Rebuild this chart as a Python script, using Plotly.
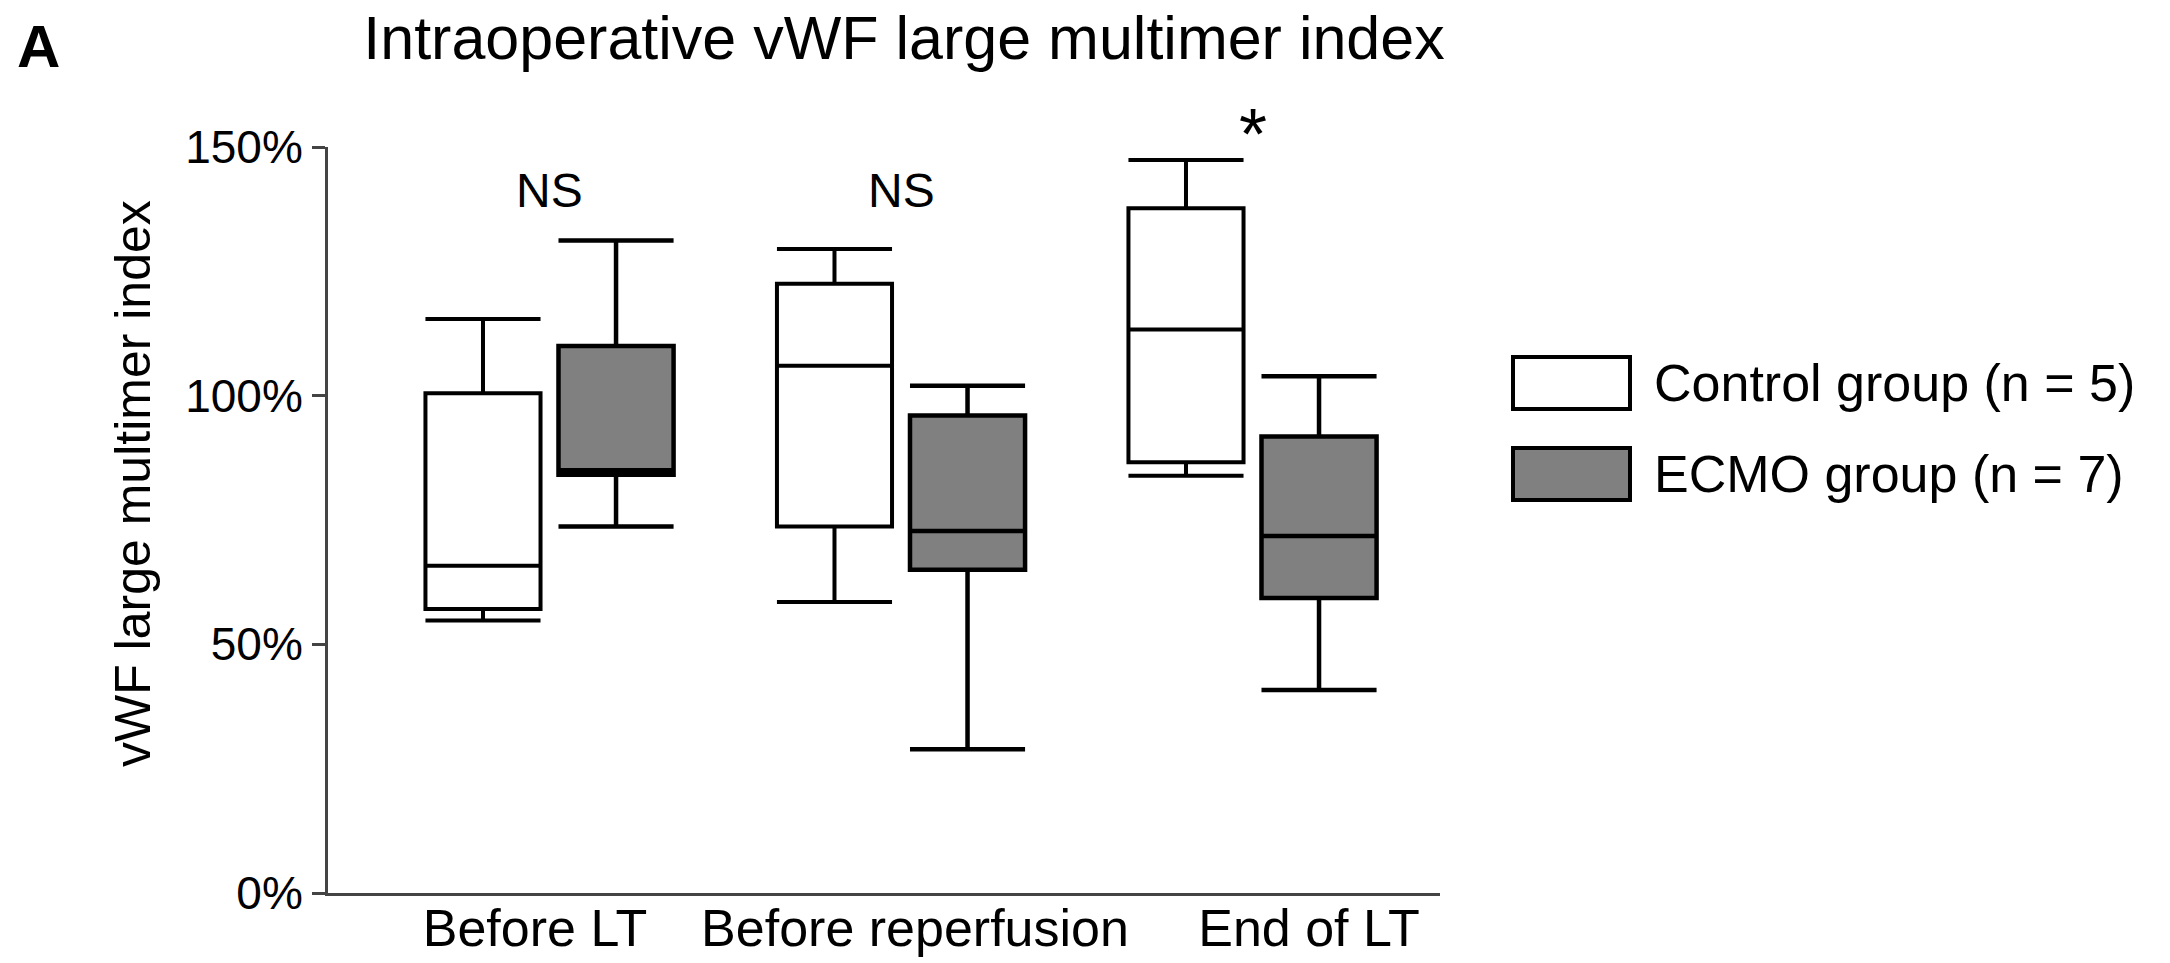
import plotly.graph_objects as go

# ---------------- data ----------------
categories = ["Before LT", "Before reperfusion", "End of LT"]
group_names = ["Control group (n = 5)", "ECMO group (n = 7)"]

control_low = [54.8, 58.5, 83.9]
control_q1 = [57.1, 73.7, 86.6]
control_med = [65.8, 106.0, 113.3]
control_q3 = [100.5, 122.5, 137.7]
control_high = [115.4, 129.5, 147.4]

ecmo_low = [73.7, 28.9, 40.8]
ecmo_q1 = [84.1, 65.0, 59.3]
ecmo_med = [85.0, 72.8, 71.8]
ecmo_q3 = [110.0, 96.0, 91.8]
ecmo_high = [131.2, 102.0, 103.9]

significance = ["NS", "NS", "*"]
y_ticks = [0, 50, 100, 150]
y_tick_text = [f"{v}%" for v in y_ticks]

# ---------------- layout geometry ----------------
# the page body has an 8 px margin, so the figure is drawn 8 px smaller and
# all reference pixel positions are shifted by that amount
BODY = 8
W, H = 2170 - BODY, 963 - BODY
ML, MT = 328 - BODY, 147 - BODY
PLOT_RIGHT, PLOT_BOTTOM = 1440 - BODY, 893 - BODY
MR, MB = W - PLOT_RIGHT, H - PLOT_BOTTOM
PW, PH = W - ML - MR, H - MT - MB
FONT = "Liberation Sans, Arial, Helvetica, sans-serif"


def px_x(px):
    return (px - BODY - ML) / PW


def px_y(py):
    return (PLOT_BOTTOM - (py - BODY)) / PH


group_pos = list(range(len(categories)))
x_range = [-0.6302, 2.5334]
label_pos = [-0.0413, 1.0398, 2.1607]

fig = go.Figure()

fig.add_trace(go.Box(
    x=group_pos, q1=control_q1, median=control_med, q3=control_q3,
    lowerfence=control_low, upperfence=control_high,
    name=group_names[0], fillcolor="white",
    line=dict(color="black", width=4), whiskerwidth=1,
    boxpoints=False, hoverinfo="skip", showlegend=False,
))
fig.add_trace(go.Box(
    x=group_pos, q1=ecmo_q1, median=ecmo_med, q3=ecmo_q3,
    lowerfence=ecmo_low, upperfence=ecmo_high,
    name=group_names[1], fillcolor="#808080",
    line=dict(color="black", width=4.5), whiskerwidth=1,
    boxpoints=False, hoverinfo="skip", showlegend=False,
))

annotations = []
# significance marks
for i, s in enumerate(significance):
    if s == "*":
        annotations.append(dict(x=group_pos[i], y=px_y(134), xref="x", yref="paper", text=s,
                                showarrow=False, yanchor="middle",
                                font=dict(family=FONT, size=72, color="black")))
    else:
        annotations.append(dict(x=group_pos[i], y=141.2, xref="x", yref="y", text=s,
                                showarrow=False, yanchor="middle",
                                font=dict(family=FONT, size=48, color="black")))

# panel letter
annotations.append(dict(x=px_x(15), y=px_y(47), xref="paper", yref="paper", text="<b>A</b>",
                        showarrow=False, xanchor="left", yanchor="middle",
                        font=dict(family=FONT, size=60, color="black")))

# y-axis title
annotations.append(dict(x=px_x(133), y=px_y(484), xref="paper", yref="paper",
                        text="vWF large multimer index", textangle=-90,
                        showarrow=False, xanchor="center", yanchor="middle",
                        font=dict(family=FONT, size=50, color="black")))

# legend (custom, large swatches)
shapes = []
legend_rows = [(357, 409, "white"), (448, 500, "#808080")]
for (top, bot, fill), name in zip(legend_rows, group_names):
    shapes.append(dict(type="rect", xref="paper", yref="paper",
                       x0=px_x(1513), x1=px_x(1630), y0=px_y(bot), y1=px_y(top),
                       fillcolor=fill, line=dict(color="black", width=4)))
    annotations.append(dict(x=px_x(1652), y=px_y((top + bot) / 2), xref="paper", yref="paper",
                            text=name, showarrow=False, xanchor="left", yanchor="middle",
                            font=dict(family=FONT, size=52, color="black")))

fig.update_layout(
    width=W, height=H,
    margin=dict(l=ML, r=MR, t=MT, b=MB, autoexpand=False),
    paper_bgcolor="white", plot_bgcolor="white",
    boxmode="group", boxgap=0.243, boxgroupgap=0.135,
    title=dict(text="Intraoperative vWF large multimer index",
               x=(904 - BODY) / W, xref="container", xanchor="center",
               y=1 - (38 - BODY) / H, yref="container", yanchor="middle",
               font=dict(family=FONT, size=61, color="black")),
    font=dict(family=FONT, color="black"),
    annotations=annotations, shapes=shapes,
    showlegend=False,
)

fig.update_xaxes(
    range=x_range, tickmode="array", tickvals=label_pos, ticktext=categories,
    ticks="", showgrid=False, zeroline=False, ticklabelstandoff=-12,
    showline=True, linecolor="#444444", linewidth=3,
    tickfont=dict(family=FONT, size=52, color="black"),
)
fig.update_yaxes(
    range=[0, 150], tickmode="array", tickvals=y_ticks, ticktext=y_tick_text,
    ticks="outside", ticklen=13, tickwidth=3, tickcolor="#444444",
    showgrid=False, zeroline=False,
    showline=True, linecolor="#444444", linewidth=3,
    tickfont=dict(family=FONT, size=46, color="black"),
)

fig.write_html("out.html")
